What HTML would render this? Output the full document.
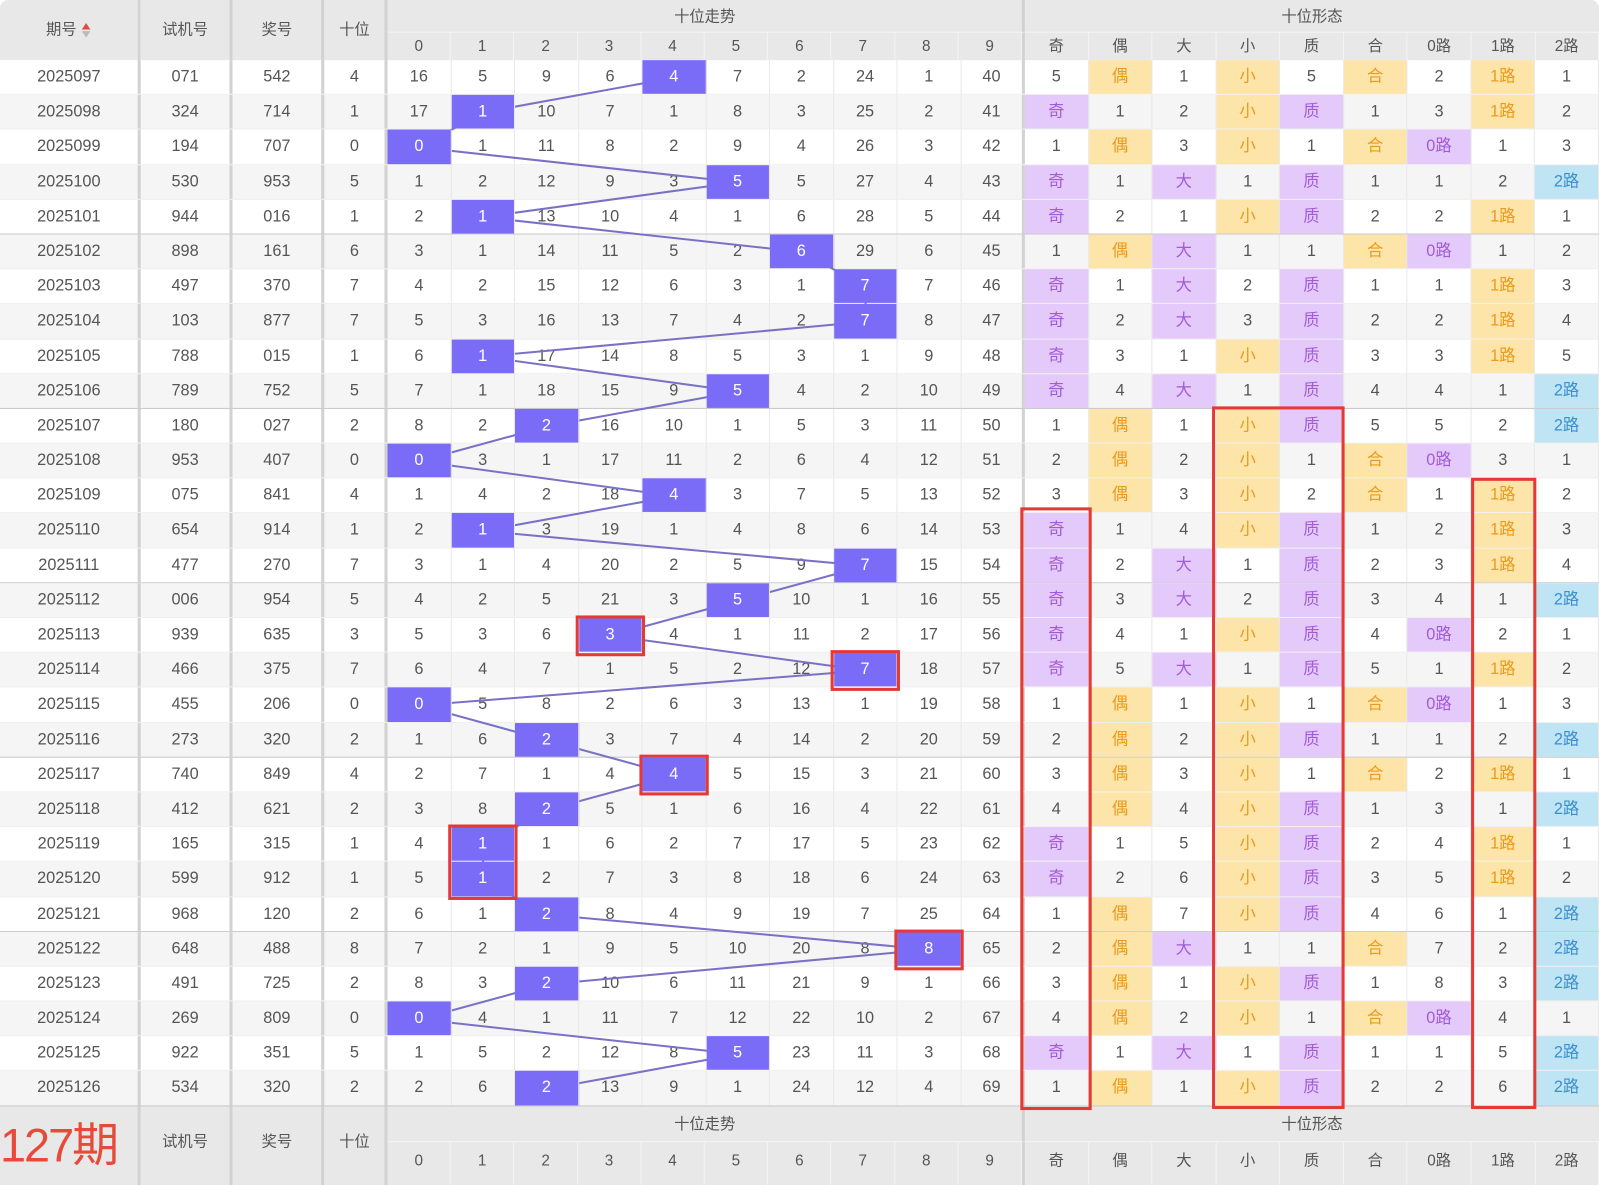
<!DOCTYPE html>
<html><head><meta charset="utf-8">
<style>
html,body{margin:0;padding:0;background:#fff;overflow:hidden;width:1599px;height:1185px}
#w{position:relative;width:1568px;height:1162px;transform:scale(1.0198,1.0198);transform-origin:0 0;font-family:"Liberation Sans","Noto Sans CJK SC",sans-serif;color:#555}
.hd{position:absolute;background:#e8e8e8;text-align:center;font-size:15px;color:#555;box-sizing:border-box}
.r{display:grid;grid-template-columns:138px 90px 90px 62px repeat(10,62.5px) repeat(9,62.556px);height:34.2px;box-sizing:border-box;border-bottom:1px solid #efefef}
.r.a{background:#f5f5f5}
.r.g{border-bottom:1px solid #c8c8c8}
.r>span{display:block;text-align:center;line-height:33px;font-size:16px;color:#555;border-right:1px solid #e8e8e8;box-sizing:border-box}
.r>span:nth-child(-n+4),.r>span:nth-child(14){border-right:3px solid #d2d2d2}
.r>span.h{background:#7b6cf7;color:#fff;position:relative;z-index:2}
.r>span.o{background:#fde4a8;color:#ec9a1c}
.r>span.p{background:#e4cafb;color:#a35ad6}
.r>span.b{background:#bfe4f4;color:#3b8fd0}
#data{position:absolute;left:0;top:59px;width:1568px}
svg{position:absolute;left:0;top:0;z-index:1}
#red{z-index:3}
.sub{display:flex;position:absolute;box-sizing:border-box}
.sub div{flex:1;text-align:center;border-right:1px solid #f4f4f4;font-size:15px;color:#555}
</style></head><body><div id="w">
<!-- header -->
<div class="hd" style="left:0;top:0;width:138px;height:59px;line-height:59px;border-right:3px solid #d2d2d2;border-top-left-radius:8px">期号<span style="display:inline-block;vertical-align:middle;margin-left:4px;line-height:8px;font-size:11px;transform:scaleX(1.3)"><span style="color:#e24a3b;display:block">▲</span><span style="color:#bbb;display:block">▼</span></span></div>
<div class="hd" style="left:138px;top:0;width:90px;height:59px;line-height:59px;border-right:3px solid #d2d2d2">试机号</div>
<div class="hd" style="left:228px;top:0;width:90px;height:59px;line-height:59px;border-right:3px solid #d2d2d2">奖号</div>
<div class="hd" style="left:318px;top:0;width:62px;height:59px;line-height:59px;border-right:3px solid #d2d2d2">十位</div>
<div class="hd" style="left:380px;top:0;width:625px;height:32px;line-height:34px;border-right:3px solid #d2d2d2;border-bottom:1px solid #f4f4f4">十位走势</div>
<div class="hd" style="left:1005px;top:0;width:563px;height:32px;line-height:34px;border-bottom:1px solid #f4f4f4;border-top-right-radius:8px">十位形态</div>
<div class="hd sub" style="left:380px;top:32px;width:625px;height:27px;line-height:27px;border-right:3px solid #d2d2d2"><div>0</div><div>1</div><div>2</div><div>3</div><div>4</div><div>5</div><div>6</div><div>7</div><div>8</div><div>9</div></div>
<div class="hd sub" style="left:1005px;top:32px;width:563px;height:27px;line-height:27px"><div>奇</div><div>偶</div><div>大</div><div>小</div><div>质</div><div>合</div><div>0路</div><div>1路</div><div>2路</div></div>

<div id="data">
<div class="r"><span>2025097</span><span>071</span><span>542</span><span>4</span><span>16</span><span>5</span><span>9</span><span>6</span><span class="h">4</span><span>7</span><span>2</span><span>24</span><span>1</span><span>40</span><span>5</span><span class="o">偶</span><span>1</span><span class="o">小</span><span>5</span><span class="o">合</span><span>2</span><span class="o">1路</span><span>1</span></div>
<div class="r a"><span>2025098</span><span>324</span><span>714</span><span>1</span><span>17</span><span class="h">1</span><span>10</span><span>7</span><span>1</span><span>8</span><span>3</span><span>25</span><span>2</span><span>41</span><span class="p">奇</span><span>1</span><span>2</span><span class="o">小</span><span class="p">质</span><span>1</span><span>3</span><span class="o">1路</span><span>2</span></div>
<div class="r"><span>2025099</span><span>194</span><span>707</span><span>0</span><span class="h">0</span><span>1</span><span>11</span><span>8</span><span>2</span><span>9</span><span>4</span><span>26</span><span>3</span><span>42</span><span>1</span><span class="o">偶</span><span>3</span><span class="o">小</span><span>1</span><span class="o">合</span><span class="p">0路</span><span>1</span><span>3</span></div>
<div class="r a"><span>2025100</span><span>530</span><span>953</span><span>5</span><span>1</span><span>2</span><span>12</span><span>9</span><span>3</span><span class="h">5</span><span>5</span><span>27</span><span>4</span><span>43</span><span class="p">奇</span><span>1</span><span class="p">大</span><span>1</span><span class="p">质</span><span>1</span><span>1</span><span>2</span><span class="b">2路</span></div>
<div class="r g"><span>2025101</span><span>944</span><span>016</span><span>1</span><span>2</span><span class="h">1</span><span>13</span><span>10</span><span>4</span><span>1</span><span>6</span><span>28</span><span>5</span><span>44</span><span class="p">奇</span><span>2</span><span>1</span><span class="o">小</span><span class="p">质</span><span>2</span><span>2</span><span class="o">1路</span><span>1</span></div>
<div class="r a"><span>2025102</span><span>898</span><span>161</span><span>6</span><span>3</span><span>1</span><span>14</span><span>11</span><span>5</span><span>2</span><span class="h">6</span><span>29</span><span>6</span><span>45</span><span>1</span><span class="o">偶</span><span class="p">大</span><span>1</span><span>1</span><span class="o">合</span><span class="p">0路</span><span>1</span><span>2</span></div>
<div class="r"><span>2025103</span><span>497</span><span>370</span><span>7</span><span>4</span><span>2</span><span>15</span><span>12</span><span>6</span><span>3</span><span>1</span><span class="h">7</span><span>7</span><span>46</span><span class="p">奇</span><span>1</span><span class="p">大</span><span>2</span><span class="p">质</span><span>1</span><span>1</span><span class="o">1路</span><span>3</span></div>
<div class="r a"><span>2025104</span><span>103</span><span>877</span><span>7</span><span>5</span><span>3</span><span>16</span><span>13</span><span>7</span><span>4</span><span>2</span><span class="h">7</span><span>8</span><span>47</span><span class="p">奇</span><span>2</span><span class="p">大</span><span>3</span><span class="p">质</span><span>2</span><span>2</span><span class="o">1路</span><span>4</span></div>
<div class="r"><span>2025105</span><span>788</span><span>015</span><span>1</span><span>6</span><span class="h">1</span><span>17</span><span>14</span><span>8</span><span>5</span><span>3</span><span>1</span><span>9</span><span>48</span><span class="p">奇</span><span>3</span><span>1</span><span class="o">小</span><span class="p">质</span><span>3</span><span>3</span><span class="o">1路</span><span>5</span></div>
<div class="r a g"><span>2025106</span><span>789</span><span>752</span><span>5</span><span>7</span><span>1</span><span>18</span><span>15</span><span>9</span><span class="h">5</span><span>4</span><span>2</span><span>10</span><span>49</span><span class="p">奇</span><span>4</span><span class="p">大</span><span>1</span><span class="p">质</span><span>4</span><span>4</span><span>1</span><span class="b">2路</span></div>
<div class="r"><span>2025107</span><span>180</span><span>027</span><span>2</span><span>8</span><span>2</span><span class="h">2</span><span>16</span><span>10</span><span>1</span><span>5</span><span>3</span><span>11</span><span>50</span><span>1</span><span class="o">偶</span><span>1</span><span class="o">小</span><span class="p">质</span><span>5</span><span>5</span><span>2</span><span class="b">2路</span></div>
<div class="r a"><span>2025108</span><span>953</span><span>407</span><span>0</span><span class="h">0</span><span>3</span><span>1</span><span>17</span><span>11</span><span>2</span><span>6</span><span>4</span><span>12</span><span>51</span><span>2</span><span class="o">偶</span><span>2</span><span class="o">小</span><span>1</span><span class="o">合</span><span class="p">0路</span><span>3</span><span>1</span></div>
<div class="r"><span>2025109</span><span>075</span><span>841</span><span>4</span><span>1</span><span>4</span><span>2</span><span>18</span><span class="h">4</span><span>3</span><span>7</span><span>5</span><span>13</span><span>52</span><span>3</span><span class="o">偶</span><span>3</span><span class="o">小</span><span>2</span><span class="o">合</span><span>1</span><span class="o">1路</span><span>2</span></div>
<div class="r a"><span>2025110</span><span>654</span><span>914</span><span>1</span><span>2</span><span class="h">1</span><span>3</span><span>19</span><span>1</span><span>4</span><span>8</span><span>6</span><span>14</span><span>53</span><span class="p">奇</span><span>1</span><span>4</span><span class="o">小</span><span class="p">质</span><span>1</span><span>2</span><span class="o">1路</span><span>3</span></div>
<div class="r g"><span>2025111</span><span>477</span><span>270</span><span>7</span><span>3</span><span>1</span><span>4</span><span>20</span><span>2</span><span>5</span><span>9</span><span class="h">7</span><span>15</span><span>54</span><span class="p">奇</span><span>2</span><span class="p">大</span><span>1</span><span class="p">质</span><span>2</span><span>3</span><span class="o">1路</span><span>4</span></div>
<div class="r a"><span>2025112</span><span>006</span><span>954</span><span>5</span><span>4</span><span>2</span><span>5</span><span>21</span><span>3</span><span class="h">5</span><span>10</span><span>1</span><span>16</span><span>55</span><span class="p">奇</span><span>3</span><span class="p">大</span><span>2</span><span class="p">质</span><span>3</span><span>4</span><span>1</span><span class="b">2路</span></div>
<div class="r"><span>2025113</span><span>939</span><span>635</span><span>3</span><span>5</span><span>3</span><span>6</span><span class="h">3</span><span>4</span><span>1</span><span>11</span><span>2</span><span>17</span><span>56</span><span class="p">奇</span><span>4</span><span>1</span><span class="o">小</span><span class="p">质</span><span>4</span><span class="p">0路</span><span>2</span><span>1</span></div>
<div class="r a"><span>2025114</span><span>466</span><span>375</span><span>7</span><span>6</span><span>4</span><span>7</span><span>1</span><span>5</span><span>2</span><span>12</span><span class="h">7</span><span>18</span><span>57</span><span class="p">奇</span><span>5</span><span class="p">大</span><span>1</span><span class="p">质</span><span>5</span><span>1</span><span class="o">1路</span><span>2</span></div>
<div class="r"><span>2025115</span><span>455</span><span>206</span><span>0</span><span class="h">0</span><span>5</span><span>8</span><span>2</span><span>6</span><span>3</span><span>13</span><span>1</span><span>19</span><span>58</span><span>1</span><span class="o">偶</span><span>1</span><span class="o">小</span><span>1</span><span class="o">合</span><span class="p">0路</span><span>1</span><span>3</span></div>
<div class="r a g"><span>2025116</span><span>273</span><span>320</span><span>2</span><span>1</span><span>6</span><span class="h">2</span><span>3</span><span>7</span><span>4</span><span>14</span><span>2</span><span>20</span><span>59</span><span>2</span><span class="o">偶</span><span>2</span><span class="o">小</span><span class="p">质</span><span>1</span><span>1</span><span>2</span><span class="b">2路</span></div>
<div class="r"><span>2025117</span><span>740</span><span>849</span><span>4</span><span>2</span><span>7</span><span>1</span><span>4</span><span class="h">4</span><span>5</span><span>15</span><span>3</span><span>21</span><span>60</span><span>3</span><span class="o">偶</span><span>3</span><span class="o">小</span><span>1</span><span class="o">合</span><span>2</span><span class="o">1路</span><span>1</span></div>
<div class="r a"><span>2025118</span><span>412</span><span>621</span><span>2</span><span>3</span><span>8</span><span class="h">2</span><span>5</span><span>1</span><span>6</span><span>16</span><span>4</span><span>22</span><span>61</span><span>4</span><span class="o">偶</span><span>4</span><span class="o">小</span><span class="p">质</span><span>1</span><span>3</span><span>1</span><span class="b">2路</span></div>
<div class="r"><span>2025119</span><span>165</span><span>315</span><span>1</span><span>4</span><span class="h">1</span><span>1</span><span>6</span><span>2</span><span>7</span><span>17</span><span>5</span><span>23</span><span>62</span><span class="p">奇</span><span>1</span><span>5</span><span class="o">小</span><span class="p">质</span><span>2</span><span>4</span><span class="o">1路</span><span>1</span></div>
<div class="r a"><span>2025120</span><span>599</span><span>912</span><span>1</span><span>5</span><span class="h">1</span><span>2</span><span>7</span><span>3</span><span>8</span><span>18</span><span>6</span><span>24</span><span>63</span><span class="p">奇</span><span>2</span><span>6</span><span class="o">小</span><span class="p">质</span><span>3</span><span>5</span><span class="o">1路</span><span>2</span></div>
<div class="r g"><span>2025121</span><span>968</span><span>120</span><span>2</span><span>6</span><span>1</span><span class="h">2</span><span>8</span><span>4</span><span>9</span><span>19</span><span>7</span><span>25</span><span>64</span><span>1</span><span class="o">偶</span><span>7</span><span class="o">小</span><span class="p">质</span><span>4</span><span>6</span><span>1</span><span class="b">2路</span></div>
<div class="r a"><span>2025122</span><span>648</span><span>488</span><span>8</span><span>7</span><span>2</span><span>1</span><span>9</span><span>5</span><span>10</span><span>20</span><span>8</span><span class="h">8</span><span>65</span><span>2</span><span class="o">偶</span><span class="p">大</span><span>1</span><span>1</span><span class="o">合</span><span>7</span><span>2</span><span class="b">2路</span></div>
<div class="r"><span>2025123</span><span>491</span><span>725</span><span>2</span><span>8</span><span>3</span><span class="h">2</span><span>10</span><span>6</span><span>11</span><span>21</span><span>9</span><span>1</span><span>66</span><span>3</span><span class="o">偶</span><span>1</span><span class="o">小</span><span class="p">质</span><span>1</span><span>8</span><span>3</span><span class="b">2路</span></div>
<div class="r a"><span>2025124</span><span>269</span><span>809</span><span>0</span><span class="h">0</span><span>4</span><span>1</span><span>11</span><span>7</span><span>12</span><span>22</span><span>10</span><span>2</span><span>67</span><span>4</span><span class="o">偶</span><span>2</span><span class="o">小</span><span>1</span><span class="o">合</span><span class="p">0路</span><span>4</span><span>1</span></div>
<div class="r"><span>2025125</span><span>922</span><span>351</span><span>5</span><span>1</span><span>5</span><span>2</span><span>12</span><span>8</span><span class="h">5</span><span>23</span><span>11</span><span>3</span><span>68</span><span class="p">奇</span><span>1</span><span class="p">大</span><span>1</span><span class="p">质</span><span>1</span><span>1</span><span>5</span><span class="b">2路</span></div>
<div class="r a g"><span>2025126</span><span>534</span><span>320</span><span>2</span><span>2</span><span>6</span><span class="h">2</span><span>13</span><span>9</span><span>1</span><span>24</span><span>12</span><span>4</span><span>69</span><span>1</span><span class="o">偶</span><span>1</span><span class="o">小</span><span class="p">质</span><span>2</span><span>2</span><span>6</span><span class="b">2路</span></div>
</div>

<svg width="1568" height="1162" viewBox="0 0 1568 1162">
<polyline fill="none" stroke="#7872c6" stroke-width="2" points="661.25,76.1 473.75,110.3 411.25,144.5 723.75,178.7 473.75,212.9 786.25,247.1 848.75,281.3 848.75,315.5 473.75,349.7 723.75,383.9 536.25,418.1 411.25,452.3 661.25,486.5 473.75,520.7 848.75,554.9 723.75,589.1 598.75,623.3 848.75,657.5 411.25,691.7 536.25,725.9 661.25,760.1 536.25,794.3 473.75,828.5 473.75,862.7 536.25,896.9 911.25,931.1 536.25,965.3 411.25,999.5 723.75,1033.7 536.25,1067.9"/>
</svg>
<svg id="red" width="1568" height="1162" viewBox="0 0 1568 1162" fill="none" stroke="#e53935" stroke-width="3">
<rect x="566" y="605" width="65" height="37"/>
<rect x="816" y="639" width="65" height="37"/>
<rect x="628.5" y="741.5" width="65" height="37"/>
<rect x="441" y="810" width="65" height="71"/>
<rect x="878.5" y="913" width="65" height="37"/>
<rect x="1002" y="499" width="67" height="588"/>
<rect x="1190" y="400" width="127" height="686"/>
<rect x="1444" y="470" width="61" height="616"/>
</svg>

<!-- footer -->
<div class="hd" style="left:0;top:1085px;width:138px;height:77px;border-right:3px solid #d2d2d2;text-align:left;overflow:hidden"><span style="position:absolute;left:0;top:6px;font-size:46px;line-height:64px;color:#e84a3a;white-space:nowrap;letter-spacing:-2px">127期</span></div>
<div class="hd" style="left:138px;top:1085px;width:90px;height:77px;line-height:70px;border-right:3px solid #d2d2d2">试机号</div>
<div class="hd" style="left:228px;top:1085px;width:90px;height:77px;line-height:70px;border-right:3px solid #d2d2d2">奖号</div>
<div class="hd" style="left:318px;top:1085px;width:62px;height:77px;line-height:70px;border-right:3px solid #d2d2d2">十位</div>
<div class="hd" style="left:380px;top:1085px;width:625px;height:35px;line-height:35px;border-right:3px solid #d2d2d2;border-bottom:1px solid #f4f4f4">十位走势</div>
<div class="hd" style="left:1005px;top:1085px;width:563px;height:35px;line-height:35px;border-bottom:1px solid #f4f4f4">十位形态</div>
<div class="hd sub" style="left:380px;top:1120px;width:625px;height:42px;line-height:38px;border-right:3px solid #d2d2d2"><div>0</div><div>1</div><div>2</div><div>3</div><div>4</div><div>5</div><div>6</div><div>7</div><div>8</div><div>9</div></div>
<div class="hd sub" style="left:1005px;top:1120px;width:563px;height:42px;line-height:38px"><div>奇</div><div>偶</div><div>大</div><div>小</div><div>质</div><div>合</div><div>0路</div><div>1路</div><div>2路</div></div>
</div></body></html>
